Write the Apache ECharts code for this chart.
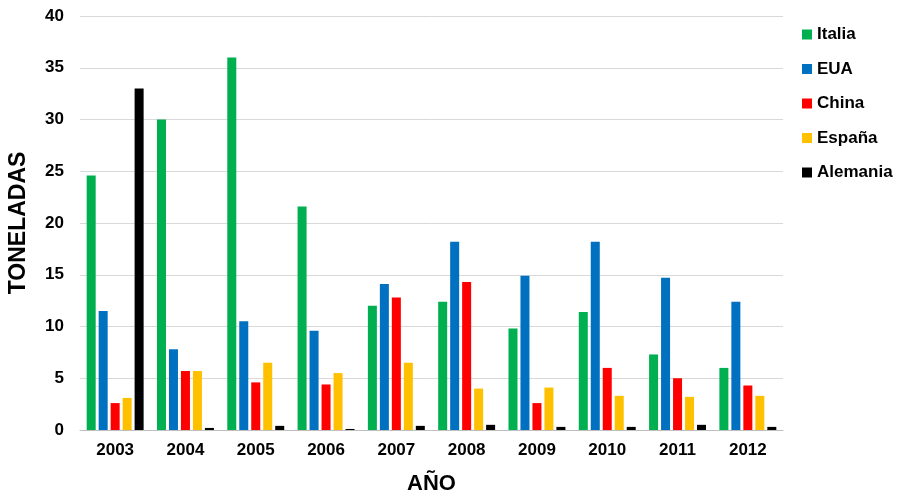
<!DOCTYPE html>
<html>
<head>
<meta charset="utf-8">
<script src="https://cdn.jsdelivr.net/npm/echarts@6/dist/echarts.min.js"></script>
<style>html,body{margin:0;padding:0;background:#fff}#c{width:897px;height:494px}</style>
</head>
<body>
<div id="c"></div>
<script>
const years = ['2003','2004','2005','2006','2007','2008','2009','2010','2011','2012'];
const italia   = [24.6, 30.0, 36.0, 21.6, 12.0, 12.4, 9.8, 11.4, 7.3, 6.0];
const eua      = [11.5, 7.8, 10.5, 9.6, 14.1, 18.2, 14.9, 18.2, 14.7, 12.4];
const china    = [2.6, 5.7, 4.6, 4.4, 12.8, 14.3, 2.6, 6.0, 5.0, 4.3];
const espana   = [3.1, 5.7, 6.5, 5.5, 6.5, 4.0, 4.1, 3.3, 3.2, 3.3];
const alemania = [33.0, 0.2, 0.4, 0.1, 0.4, 0.5, 0.3, 0.3, 0.5, 0.3];
const seriesNames = ['Italia','EUA','China','España','Alemania'];
const colors = ['#00B050','#0070C0','#FF0000','#FFC000','#000000'];
const values = [italia, eua, china, espana, alemania];

const chart = echarts.init(document.getElementById('c'));
const font = 'Liberation Sans, Arial, sans-serif';
chart.setOption({
  animation: false,
  textStyle: {fontFamily: font},
  grid: {left: 80, right: 114, top: 16, bottom: 64, containLabel: false, outerBoundsMode: 'none'},
  legend: {
    orient: 'vertical', left: 797, top: 21, itemGap: 17.5, padding: 5,
    itemWidth: 10, itemHeight: 10, icon: 'rect',
    data: seriesNames,
    textStyle: {fontFamily: font, fontWeight: 'bold', fontSize: 17, lineHeight: 17, color: '#000'}
  },
  xAxis: {
    type: 'category', data: years,
    name: 'AÑO', nameLocation: 'middle', nameGap: 43,
    nameTextStyle: {fontFamily: font, fontWeight: 'bold', fontSize: 22, color: '#000'},
    axisTick: {show: false},
    axisLine: {lineStyle: {color: '#BFBFBF', width: 1}},
    axisLabel: {fontFamily: font, fontWeight: 'bold', fontSize: 17, color: '#000', margin: 12}
  },
  yAxis: {
    type: 'value', min: 0, max: 40, interval: 5,
    name: 'TONELADAS', nameLocation: 'middle', nameGap: 50, nameRotate: 90,
    nameTextStyle: {fontFamily: font, fontWeight: 'bold', fontSize: 23, color: '#000'},
    axisLine: {show: false}, axisTick: {show: false},
    splitLine: {lineStyle: {color: '#D9D9D9', width: 1}},
    axisLabel: {fontFamily: font, fontWeight: 'bold', fontSize: 17, color: '#000', margin: 16}
  },
  series: seriesNames.map((n, i) => ({
    name: n, type: 'bar', data: values[i],
    barGap: '33%', barCategoryGap: '19%',
    itemStyle: {color: colors[i]}
  }))
});
</script>
</body>
</html>
